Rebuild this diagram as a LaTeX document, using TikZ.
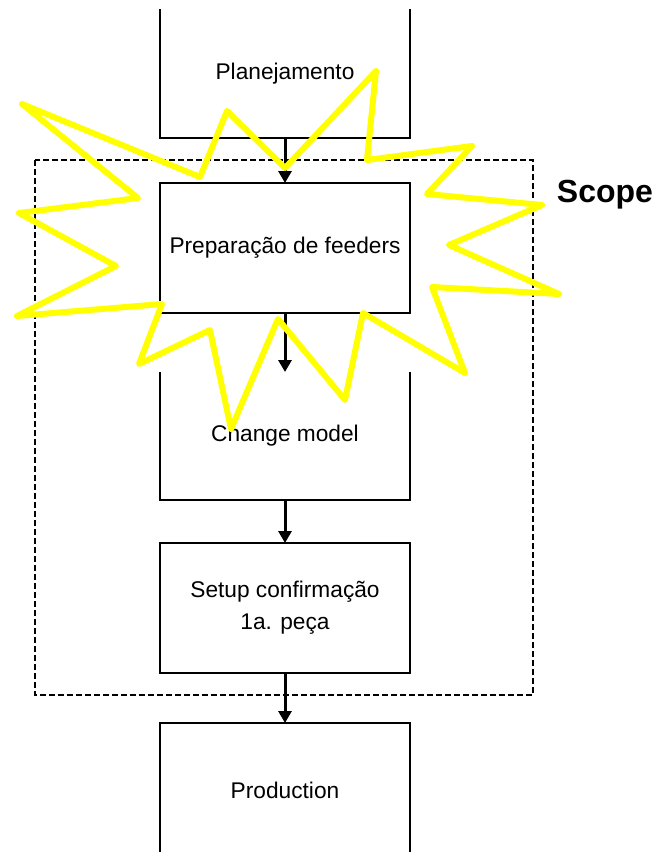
\documentclass[tikz,border=0pt]{standalone}
\usepackage{fontspec}
\setmainfont{Liberation Sans}
\usetikzlibrary{arrows.meta}
\tikzset{
  boxnode/.style={minimum width=250pt, inner sep=0pt, outer sep=0pt, align=center,
    font=\fontsize{22.7}{32}\selectfont},
  boxline/.style={line width=2.2pt, draw=black},
  flowarrow/.style={line width=3pt, -{Triangle[width=13pt,length=12pt]}},
  scopeline/.style={line width=2pt, dash pattern=on 6pt off 3pt},
  burst/.style={draw={rgb,255:red,255;green,255;blue,0}, line width=6pt, line join=round},
  scopelabel/.style={font=\fontsize{32}{36}\selectfont\bfseries, inner sep=0pt}
}
\begin{document}
\begin{tikzpicture}[x=1pt,y=-1pt]
\useasboundingbox (0,0) rectangle (658,852);
% scope area
\draw[scopeline] (35,160) rectangle (533,695);
% boxes
\node[boxnode, minimum height=129pt] (plan) at (285,73.5) {Planejamento};
\node[boxnode, minimum height=130pt] (prep) at (285,248) {Preparação de feeders};
\node[boxnode, minimum height=128pt] (change) at (285,436) {Change model};
\node[boxnode, minimum height=130pt] (setup) at (285,608) {Setup confirmação\\1a. peça};
\node[boxnode, minimum height=134pt] (prod) at (285,790) {Production};
\draw[boxline] (plan.north west) -- (plan.south west) -- (plan.south east) -- (plan.north east);
\draw[boxline] (prep.north west) rectangle (prep.south east);
\draw[boxline] (change.north west) -- (change.south west) -- (change.south east) -- (change.north east);
\draw[boxline] (setup.north west) rectangle (setup.south east);
\draw[boxline] (prod.south west) -- (prod.north west) -- (prod.north east) -- (prod.south east);
% arrows
\draw[flowarrow] (plan.south) -- (prep.north);
\draw[flowarrow] (prep.south) -- (change.north);
\draw[flowarrow] (change.south) -- (setup.north);
\draw[flowarrow] (setup.south) -- (prod.north);
% scope label
\node[scopelabel, anchor=base] (scope) at (605,202) {Scope};
% starburst
\draw[burst] (376,71) -- (367,160) -- (472,146) -- (427,194) -- (542,205) -- (449,245)
  -- (559,294) -- (432,287) -- (465,373) -- (363,313) -- (345,400) -- (278,319)
  -- (231,429) -- (210,330) -- (139,364) -- (162,304) -- (17,316) -- (116,266)
  -- (19,213) -- (138,198) -- (22,104) -- (200,177) -- (227,111) -- (285,168) -- cycle;
\end{tikzpicture}
\end{document}
